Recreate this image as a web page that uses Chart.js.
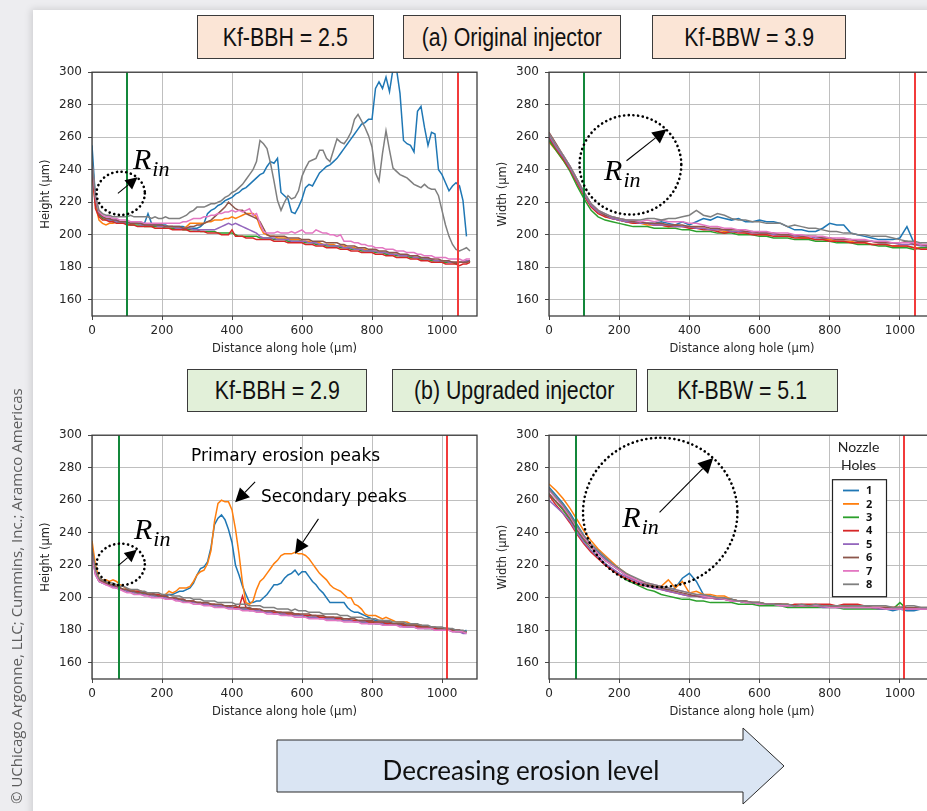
<!DOCTYPE html>
<html>
<head>
<meta charset="utf-8">
<title>Nozzle hole height and width profiles</title>
<script src="https://cdn.jsdelivr.net/npm/chart.js@4.4.1/dist/chart.umd.min.js"></script>
<style>
  html, body { margin:0; padding:0; width:927px; height:811px; overflow:hidden; background:#ededf0; }
  body { position:relative; }
  #sheet { position:absolute; left:33px; top:10px; width:920px; height:830px; background:#fff; box-shadow:-2px -1px 7px rgba(0,0,0,0.13); }
  canvas.plot { position:absolute; }
  .tag { position:absolute; box-sizing:border-box; border:1px solid #3b3b3b; display:flex; align-items:center; justify-content:center;
         font-family:"Liberation Sans",Arial,sans-serif; font-size:26px; color:#111; white-space:nowrap; }
  .tag span { display:inline-block; transform:scaleX(0.82); }
  .orig { background:#fbe5d6; }
  .upg { background:#e2f0d9; }
  #credit { position:absolute; left:7px; top:811px; transform-origin:0 0; transform:rotate(-90deg); white-space:nowrap;
            font-family:"Open Sans","Noto Sans",sans-serif; font-size:15px; line-height:18px; color:#5c5c5c; }
  #trend { position:absolute; left:0; top:0; }
</style>
</head>
<body>
<div id="sheet"></div>

<div class="tag orig" style="left:197px;top:15px;width:177px;height:44px"><span>Kf-BBH = 2.5</span></div>
<div class="tag orig" style="left:403px;top:15px;width:218px;height:44px"><span>(a) Original injector</span></div>
<div class="tag orig" style="left:652px;top:15px;width:194px;height:44px"><span>Kf-BBW = 3.9</span></div>

<div class="tag upg" style="left:187px;top:369px;width:180px;height:43px"><span>Kf-BBH = 2.9</span></div>
<div class="tag upg" style="left:392px;top:369px;width:245px;height:43px"><span>(b) Upgraded injector</span></div>
<div class="tag upg" style="left:647px;top:369px;width:191px;height:43px"><span>Kf-BBW = 5.1</span></div>

<canvas id="heightOrigChart" class="plot" width="450" height="297" style="left:32px;top:59px;width:450px;height:297px"></canvas>
<canvas id="widthOrigChart" class="plot" width="451" height="297" style="left:489px;top:59px;width:451px;height:297px"></canvas>
<canvas id="heightUpgChart" class="plot" width="450" height="297" style="left:32px;top:422px;width:450px;height:297px"></canvas>
<canvas id="widthUpgChart" class="plot" width="451" height="297" style="left:489px;top:422px;width:451px;height:297px"></canvas>

<svg id="trend" width="927" height="811" viewBox="0 0 927 811">
  <polygon points="277,740 743,740 743,728 784,766 743,804 743,792 277,792" fill="#dae5f3" stroke="#2b2b2b" stroke-width="1"/>
  <text x="521" y="773" text-anchor="middle" dominant-baseline="middle" font-family="Lato, 'Open Sans', sans-serif" font-size="26" fill="#111">Decreasing erosion level</text>
</svg>

<div id="credit">© UChicago Argonne, LLC; Cummins, Inc.; Aramco Americas</div>

<script>
// ---- distance along the hole (µm) ----
const distFine = [0,10,20,30,40,50,60,70,80,90,100,110,120,130,140,150,160,170,180,190,
  200,210,220,230,240,250,260,270,280,290,300,310,320,330,340,350,360,370,380,390,
  400,410,420,430,440,450,460,470,480,490,500,510,520,530,540,550,560,570,580,590,
  600,610,620,630,640,650,660,670,680,690,700,710,720,730,740,750,760,770,780,790,
  800,810,820,830,840,850,860,870,880,890,900,910,920,930,940,950,960,970,980,990,
  1000,1010,1020,1030,1040,1050,1060,1070,1080];
const distCoarse = [0,20,40,60,80,100,120,140,160,180,200,220,240,260,280,300,320,340,360,380,
  400,420,440,460,480,500,520,540,560,580,600,620,640,660,680,700,720,740,760,780,
  800,820,840,860,880,900,920,940,960,980,1000,1020,1040,1060,1080];

const holeLabels = ['1','2','3','4','5','6','7','8'];
const holeColors = ['#1f77b4','#ff7f0e','#2ca02c','#d62728','#9467bd','#8c564b','#e377c2','#7f7f7f'];

// ---- (a) original injector: height (µm) ----
const heightOrig1 = [255,222,213,211,210,210,209,209,208,208, 208,207,208,207,207,207,213,207,206,206,
  206,206,205,205,205,205,205,204,204,204, 204,205,207,213,215,216,218,219,221,222,
  223,225,226,228,229,231,233,235,237,238, 242,245,244,247,226,224,222,214,213,217,
  222,229,231,230,234,238,240,242,243,245, 247,250,253,256,259,262,265,268,269,271,
  271,290,294,290,297,288,302,302,287,258, 256,255,251,276,279,266,255,263,262,240,
  237,232,227,230,232,230,221,199,null];
const heightOrig2 = [240,218,209,207,206,207,207,208,208,208, 207,207,207,207,206,206,206,206,205,205,
  205,205,205,205,204,204,204,205,207,207, 207,207,207,208,208,209,209,209,210,210,
  211,210,211,212,213,213,213,211,205,201, 200,199,199,198,198,198,197,197,197,197,
  196,196,196,195,195,195,194,194,194,194, 193,193,193,192,192,192,191,191,191,190,
  190,190,189,189,189,188,188,188,187,187, 187,186,186,186,185,185,185,184,184,184,
  184,183,183,183,183,183,183,184,184];
const heightOrig3 = [243,221,212,210,209,209,208,208,207,207, 207,206,206,206,206,205,205,205,205,205,
  205,204,204,204,204,204,203,203,203,203, 203,202,202,202,202,202,201,201,201,201,
  201,200,199,199,199,199,199,199,198,198, 198,198,197,197,197,197,196,196,196,196,
  196,195,195,195,194,194,194,193,193,193, 193,192,192,192,191,191,191,190,190,190,
  190,189,189,189,188,188,188,187,187,187, 187,186,186,186,185,185,185,184,184,184,
  183,183,183,183,182,183,183,183,184];
const heightOrig4 = [240,216,211,209,209,208,208,207,207,207, 206,206,206,205,205,205,205,205,204,204,
  204,204,204,203,203,203,203,203,202,202, 202,202,202,201,201,201,201,200,200,200,
  203,199,199,199,198,198,198,197,197,197, 197,197,196,196,196,196,195,195,195,195,
  195,194,194,194,193,193,193,192,192,192, 192,191,191,191,190,190,190,189,189,189,
  189,188,188,188,187,187,187,186,186,186, 186,185,185,185,184,184,184,183,183,183,
  183,182,182,182,182,181,182,182,183];
const heightOrig5 = [243,222,213,211,210,209,209,208,208,208, 207,207,207,207,206,206,206,206,206,205,
  205,205,205,205,204,204,204,204,204,203, 203,203,203,203,203,203,204,205,206,207,
  206,207,206,205,204,203,202,201,199,198, 198,198,198,197,197,197,197,196,196,196,
  196,196,195,195,195,194,194,194,193,193, 193,193,192,192,192,191,191,191,190,190,
  190,190,189,189,189,188,188,188,187,187, 187,187,186,186,186,185,185,185,184,184,
  184,184,183,183,183,183,183,184,184];
const heightOrig6 = [242,222,213,211,210,210,209,209,208,208, 208,207,207,207,207,206,206,206,206,206,
  206,205,205,205,205,205,204,204,205,205, 206,206,207,208,209,211,213,215,217,220,
  218,216,215,215,213,212,211,210,208,204, 200,199,199,199,199,199,198,198,198,198,
  197,197,197,196,196,196,196,195,195,195, 195,194,194,193,193,193,192,192,192,191,
  191,191,190,190,190,189,189,189,188,188, 188,187,187,187,186,186,186,185,185,185,
  184,184,184,183,183,183,183,183,184];
const heightOrig7 = [244,223,214,212,211,211,210,210,209,209, 209,208,208,208,208,207,207,207,207,207,
  207,207,207,207,207,207,208,208,209,210, 210,210,211,211,212,212,213,213,214,214,
  215,214,215,214,215,216,212,213,207,202, 201,201,201,202,201,201,201,202,201,202,
  203,201,201,201,203,202,201,201,200,200, 199,200,196,196,196,195,195,194,194,193,
  193,192,192,192,191,191,191,190,190,190, 189,189,189,188,188,187,187,187,186,186,
  186,186,185,185,185,185,184,185,185];
const heightOrig8 = [246,224,215,213,212,212,211,211,211,211, 211,212,211,211,211,211,211,210,211,210,
  210,211,210,210,210,210,211,212,214,215, 217,217,217,218,219,219,220,221,223,224,
  226,227,229,231,234,237,240,245,258,256, 253,244,233,221,215,220,224,222,223,227,
  236,241,245,246,247,252,252,247,245,252, 259,257,256,259,263,271,274,270,266,261,
  254,238,233,250,264,252,241,239,237,236, 235,233,231,230,229,231,229,228,228,224,
  215,206,199,194,191,190,191,192,190];

// ---- (a) original injector: width (µm) ----
const widthOrig1 = [259,253,247,240,232,224,218,214,212,210, 209,208,208,207,207,207,208,207,206,208,
  206,208,210,209,211,210,209,210,208,208, 209,208,208,207,205,203,203,202,202,204,
  207,206,206,201,200,199,198,197,197,197, 198,205,195,194,193];
const widthOrig2 = [257,252,246,240,232,224,218,214,211,210, 209,208,207,207,206,206,206,205,206,205,
  205,204,204,203,203,202,202,202,201,201, 200,200,200,199,199,199,198,198,197,197,
  197,196,196,196,195,195,194,194,194,193, 193,193,192,192,192];
const widthOrig3 = [258,252,246,239,230,222,215,211,209,208, 207,206,205,205,205,204,204,204,204,203,
  203,202,202,202,201,201,201,200,200,200, 199,199,198,198,198,197,197,197,196,196,
  196,195,195,195,194,194,194,193,193,192, 192,192,191,192,192];
const widthOrig4 = [260,253,247,240,232,224,217,213,211,210, 209,208,207,207,207,206,206,205,205,205,
  204,204,203,203,202,201,202,201,201,200, 200,200,199,199,199,198,198,198,197,197,
  196,196,196,195,195,195,194,194,194,193, 193,193,192,191,191];
const widthOrig5 = [261,254,248,241,233,225,218,214,212,210, 209,208,208,207,207,206,206,206,205,205,
  205,204,204,203,203,203,202,202,202,201, 201,201,200,200,200,199,199,199,198,198,
  198,197,197,197,196,196,196,195,195,195, 194,194,194,193,193];
const widthOrig6 = [263,256,249,242,234,226,219,215,212,211, 210,209,208,208,207,207,207,206,206,206,
  205,205,205,204,204,203,203,203,202,202, 201,201,201,200,200,200,199,199,199,198,
  198,197,197,197,196,196,196,195,195,195, 195,196,194,194,193];
const widthOrig7 = [262,255,249,242,234,226,219,215,213,211, 210,209,209,208,209,208,209,208,208,208,
  207,207,206,205,205,204,204,203,203,202, 202,202,201,201,201,200,200,199,199,199,
  198,198,198,197,197,197,196,196,196,195, 195,195,195,194,194];
const widthOrig8 = [262,255,249,242,234,226,219,215,213,211, 210,209,209,209,210,210,209,210,210,211,
  212,215,212,211,213,212,210,209,209,208, 208,207,207,207,205,206,205,204,204,203,
  202,202,201,201,200,200,199,199,199,198, 197,196,196,195,195];

// ---- (b) upgraded injector: height (µm) ----
const heightUpg1 = [231,216,211,210,209,208,208,207,206,205, 205,204,204,203,203,203,202,202,202,201,
  201,201,202,202,203,204,204,205,206,209, 214,218,219,222,231,245,249,251,248,242,
  234,220,214,207,202,197,197,198,198,200, 202,205,208,208,209,212,214,215,217,214,
  216,216,213,210,208,205,203,200,197,197, 197,197,197,194,192,191,191,190,189,188,
  187,186,186,186,185,185,184,184,184,184, 183,183,183,183,182,182,182,182,181,181,
  181,181,180,180,180,180,179,180];
const heightUpg2 = [235,220,212,211,211,210,211,210,208,207, 205,205,204,204,204,203,203,202,202,202,
  201,202,204,203,204,206,206,206,207,210, 214,216,217,221,229,247,258,260,259,259,
  254,242,227,209,197,196,198,205,210,212, 215,218,221,223,226,227,227,227,228,227,
  227,226,224,221,218,215,213,211,208,206, 205,204,202,200,200,196,195,193,190,189,
  189,189,188,187,188,187,186,185,185,185, 185,184,184,183,183,182,182,182,181,181,
  181,181,180,180,180,179,179,179];
const heightUpg3 = [227,215,210,209,209,208,207,206,206,205, 204,204,203,203,203,202,202,202,201,201,
  201,200,200,199,199,199,198,198,198,197, 197,197,196,196,196,195,195,195,195,194,
  194,194,194,193,193,193,193,192,192,192, 191,191,191,191,190,190,190,190,189,189,
  189,189,188,188,188,188,188,187,187,187, 187,187,186,186,186,186,185,185,185,185,
  185,184,184,184,184,183,183,183,183,183, 182,182,182,182,182,181,181,181,181,180,
  180,180,180,180,179,179,179,179];
const heightUpg4 = [228,215,211,210,209,208,207,207,206,205, 205,204,204,204,204,203,203,203,202,202,
  201,201,200,200,199,199,199,198,198,198, 197,197,196,196,196,196,195,195,195,195,
  194,194,194,201,194,193,193,193,192,192, 192,192,191,191,191,190,190,190,190,190,
  189,189,189,189,189,188,188,188,188,188, 187,187,187,187,186,186,186,186,186,185,
  185,185,185,185,184,184,184,184,184,183, 183,183,183,182,182,182,182,181,181,181,
  181,181,180,180,180,180,179,179];
const heightUpg5 = [226,214,210,209,208,208,207,206,205,205, 204,204,203,203,202,202,202,201,201,201,
  200,200,200,199,199,198,198,198,197,197, 197,196,196,196,195,195,195,195,194,194,
  194,193,193,193,193,192,192,192,192,191, 191,191,190,190,190,190,189,189,189,189,
  189,188,188,188,188,187,187,187,187,187, 186,186,186,186,186,185,185,185,185,184,
  184,184,184,184,183,183,183,183,183,182, 182,182,182,181,181,181,181,181,180,180,
  180,180,180,179,179,179,178,178];
const heightUpg6 = [229,216,211,210,209,208,208,207,206,205, 205,204,204,203,203,203,202,202,202,201,
  201,201,200,200,200,199,199,198,198,198, 197,197,197,197,196,196,196,196,195,195,
  195,195,194,194,194,194,193,193,193,192, 192,192,192,191,191,191,191,191,190,190,
  190,190,190,189,189,189,189,188,188,188, 188,188,187,187,187,187,186,186,186,186,
  186,185,185,185,185,185,184,184,184,184, 183,183,183,183,183,182,182,182,182,181,
  181,181,181,180,180,180,179,179];
const heightUpg7 = [226,214,210,209,208,207,206,206,205,204, 203,203,202,202,202,201,201,200,200,200,
  200,199,199,199,198,198,197,197,197,196, 196,196,195,195,195,194,194,194,194,193,
  193,193,193,192,192,192,192,191,191,191, 190,190,190,190,189,189,189,189,188,188,
  188,188,187,187,187,187,187,186,186,186, 186,186,185,185,185,185,185,184,184,184,
  184,184,184,183,183,183,183,183,182,182, 182,182,182,181,181,181,181,181,180,180,
  180,180,180,179,179,179,179,178];
const heightUpg8 = [230,217,212,211,210,209,209,208,207,207, 206,205,205,205,204,204,203,203,203,203,
  202,202,202,201,201,201,200,200,200,199, 199,199,198,198,198,198,197,197,197,197,
  197,196,196,196,196,195,195,195,195,194, 194,194,194,193,193,193,193,192,193,192,
  192,192,191,191,191,191,190,190,190,190, 190,189,189,189,188,188,188,188,187,187,
  187,187,186,186,186,186,185,185,185,185, 184,184,184,184,183,183,183,182,182,182,
  182,181,181,181,180,180,180,179];

// ---- (b) upgraded injector: width (µm) ----
const widthUpg1 = [268,263,258,252,245,238,232,228,224,220, 217,214,212,210,208,207,206,205,206,212,
  215,210,202,201,200,199,199,198,197,197, 197,196,196,196,195,195,195,195,195,195,
  195,194,194,194,194,194,194,193,193,192, 193,192,192,193,193];
const widthUpg2 = [270,266,261,255,248,241,235,230,226,222, 218,215,212,210,209,207,207,211,206,210,
  203,204,202,202,201,201,199,198,198,197, 197,196,196,196,196,195,195,195,195,195,
  195,195,195,194,194,194,194,194,194,194, 194,193,193,193,193];
const widthUpg3 = [264,259,254,248,241,235,229,225,221,217, 214,211,209,207,205,204,202,201,200,199,
  199,198,198,197,197,197,197,196,196,196, 195,195,195,195,194,194,194,194,194,194,
  194,194,193,193,193,193,193,193,193,193, 197,193,193,193,193];
const widthUpg4 = [263,257,252,246,239,233,228,224,220,217, 214,212,210,208,207,206,205,204,203,202,
  201,201,200,200,199,199,198,198,197,197, 196,196,196,196,195,196,196,196,196,196,
  196,195,196,196,196,195,194,194,194,194, 194,193,193,193,193];
const widthUpg5 = [260,256,252,247,240,234,229,225,221,218, 215,213,211,209,207,206,205,204,203,202,
  201,201,200,200,199,199,198,198,197,197, 196,196,196,195,195,195,195,195,195,194,
  194,194,194,194,194,194,194,193,193,193, 193,193,193,193,193];
const widthUpg6 = [264,259,255,249,242,236,231,227,223,220, 217,214,212,210,208,207,206,205,204,203,
  202,201,201,200,200,199,199,198,198,197, 197,196,196,196,196,195,195,195,195,195,
  195,195,195,195,195,195,194,194,194,194, 194,194,194,194,194];
const widthUpg7 = [266,261,256,250,243,237,232,227,223,220, 217,214,212,210,209,208,207,206,205,204,
  203,202,201,200,200,199,198,198,197,197, 196,196,196,195,195,195,195,195,195,195,
  194,194,194,194,194,194,194,194,193,193, 193,193,193,193,193];
const widthUpg8 = [267,262,257,251,244,238,233,229,225,221, 218,215,213,211,209,208,207,206,205,204,
  203,202,202,201,200,200,199,198,198,197, 197,196,196,196,196,195,196,195,196,195,
  195,195,195,195,195,195,195,195,195,194, 194,195,195,194,194];

// ---- axis ticks ----
const distanceTicks = { min: 0, max: 1100, step: 200 };
const sizeTicks = { min: 150, max: 300, step: 20 };

// ---- annotations (positions in data units) ----
const heightOrigNotes = {
  inlet: 100, outlet: 1045,
  ring: { x: 82, y: 225.5, rx: 69, ry: 13.3 },
  pointer: { from: [74, 225.4], to: [130, 235.4], head: 12 },
  radius: { x: 117, y: 240.6 }
};
const widthOrigNotes = {
  inlet: 100, outlet: 1042,
  ring: { x: 232, y: 243, rx: 145, ry: 30.6 },
  pointer: { from: [221, 245.5], to: [335, 264.9], head: 14 },
  radius: { x: 157, y: 233.7 }
};
const heightUpgNotes = {
  inlet: 78, outlet: 1015,
  ring: { x: 82, y: 220.5, rx: 69, ry: 12.8 },
  pointer: { from: [75, 219.8], to: [128, 229.5], head: 12 },
  radius: { x: 120, y: 236.2 },
  captions: [
    { text: 'Primary erosion peaks', x: 553, y: 287.1 },
    { text: 'Secondary peaks', x: 691, y: 261.4 }
  ],
  callouts: [
    { from: [466, 271.3], to: [409, 258.7], head: 14 },
    { from: [647, 248.5], to: [580, 227], head: 14 }
  ]
};
const widthUpgNotes = {
  inlet: 78, outlet: 1013,
  ring: { x: 317, y: 252.5, rx: 220, ry: 45.9 },
  pointer: { from: [315, 252.5], to: [468, 286], head: 15 },
  radius: { x: 209, y: 243.3 },
  legend: { title: ['Nozzle', 'Holes'] }
};

Chart.defaults.font.family = '"DejaVu Sans", sans-serif';
Chart.defaults.color = '#262626';

function arrow(ctx, x1, y1, x2, y2, head) {
  const a = Math.atan2(y2 - y1, x2 - x1);
  const bx = x2 - head * Math.cos(a), by = y2 - head * Math.sin(a);
  const half = head * 0.5;
  ctx.beginPath(); ctx.moveTo(x1, y1); ctx.lineTo(bx, by); ctx.stroke();
  ctx.beginPath();
  ctx.moveTo(x2, y2);
  ctx.lineTo(bx + half * Math.sin(a), by - half * Math.cos(a));
  ctx.lineTo(bx - half * Math.sin(a), by + half * Math.cos(a));
  ctx.closePath(); ctx.fill();
}

const notesPlugin = {
  id: 'notes',
  afterDatasetsDraw(chart, args, o) {
    const { ctx, chartArea: a } = chart;
    const X = v => chart.scales.x.getPixelForValue(v);
    const Y = v => chart.scales.y.getPixelForValue(v);
    ctx.save();

    // inlet / outlet markers
    ctx.lineWidth = 2;
    ctx.strokeStyle = '#13873a';
    ctx.beginPath(); ctx.moveTo(Math.round(X(o.inlet)), a.top); ctx.lineTo(Math.round(X(o.inlet)), a.bottom); ctx.stroke();
    ctx.strokeStyle = '#f23b3b';
    ctx.beginPath(); ctx.moveTo(Math.round(X(o.outlet)), a.top); ctx.lineTo(Math.round(X(o.outlet)), a.bottom); ctx.stroke();

    // axes frame
    ctx.strokeStyle = '#3c3c3c';
    ctx.lineWidth = 1.3;
    ctx.strokeRect(a.left, a.top, a.right - a.left, a.bottom - a.top);

    // inlet radius ring
    const r = o.ring;
    ctx.strokeStyle = '#000';
    ctx.lineWidth = 2.6;
    ctx.lineCap = 'round';
    ctx.setLineDash([0.1, 4.6]);
    ctx.beginPath();
    ctx.ellipse(X(r.x), Y(r.y), Math.abs(X(r.x + r.rx) - X(r.x)), Math.abs(Y(r.y + r.ry) - Y(r.y)), 0, 0, Math.PI * 2);
    ctx.stroke();
    ctx.setLineDash([]);
    ctx.lineCap = 'butt';

    // radius pointer
    ctx.fillStyle = '#000';
    ctx.lineWidth = 1.1;
    const p = o.pointer;
    arrow(ctx, X(p.from[0]), Y(p.from[1]), X(p.to[0]), Y(p.to[1]), p.head);

    // R_in label
    const rx = X(o.radius.x), ry = Y(o.radius.y);
    ctx.textAlign = 'left';
    ctx.textBaseline = 'alphabetic';
    ctx.font = 'italic 30px "Liberation Serif", serif';
    ctx.fillText('R', rx, ry);
    const rw = ctx.measureText('R').width;
    ctx.font = 'italic 22px "Liberation Serif", serif';
    ctx.fillText('in', rx + rw + 1, ry + 7);

    // captions with call-out arrows
    if (o.captions) {
      ctx.font = '17px "DejaVu Sans", sans-serif';
      ctx.textAlign = 'center';
      ctx.textBaseline = 'middle';
      o.captions.forEach(c => ctx.fillText(c.text, X(c.x), Y(c.y)));
      o.callouts.forEach(c => arrow(ctx, X(c.from[0]), Y(c.from[1]), X(c.to[0]), Y(c.to[1]), c.head));
    }

    // hole legend
    if (o.legend) {
      const cx = a.right - 76.5;
      ctx.font = '14px Lato, "Open Sans", sans-serif';
      ctx.textAlign = 'center';
      ctx.textBaseline = 'middle';
      ctx.fillStyle = '#222';
      ctx.fillText(o.legend.title[0], cx, a.top + 12.5);
      ctx.fillText(o.legend.title[1], cx, a.top + 30.5);
      const bx = a.right - 103, by = a.top + 44, bw = 54, bh = 117;
      ctx.fillStyle = '#fff';
      ctx.fillRect(bx, by, bw, bh);
      ctx.strokeStyle = '#222';
      ctx.lineWidth = 1.2;
      ctx.strokeRect(bx + 0.5, by + 0.5, bw, bh);
      ctx.font = 'bold 11px "Open Sans", sans-serif';
      ctx.textAlign = 'left';
      chart.data.datasets.forEach((ds, i) => {
        const yy = a.top + 55.3 + i * 13.4;
        ctx.strokeStyle = ds.borderColor;
        ctx.lineWidth = 1.8;
        ctx.beginPath(); ctx.moveTo(a.right - 92, yy); ctx.lineTo(a.right - 76, yy); ctx.stroke();
        ctx.fillStyle = '#111';
        ctx.fillText(ds.label, a.right - 69, yy + 0.5);
      });
    }
    ctx.restore();
  }
};

function holeSets(dist, series) {
  return series.map((vals, i) => ({
    label: holeLabels[i],
    data: vals.map((v, k) => ({ x: dist[k], y: v })),
    borderColor: holeColors[i],
    backgroundColor: holeColors[i],
    borderWidth: 1.5,
    pointRadius: 0,
    tension: 0,
    fill: false,
    order: 8 - i
  }));
}

const plainNumber = v => String(v);

function drawPanel(id, dist, series, yTitle, notes) {
  new Chart(document.getElementById(id), {
    type: 'line',
    data: { datasets: holeSets(dist, series) },
    options: {
      responsive: false,
      animation: false,
      events: [],
      layout: { padding: { top: 4, right: 5, left: 0, bottom: 0 } },
      plugins: { legend: { display: false }, tooltip: { enabled: false }, notes: notes },
      scales: {
        x: {
          type: 'linear',
          min: distanceTicks.min, max: distanceTicks.max,
          afterFit: s => { s.height = 40; },
          border: { display: false },
          grid: { color: '#b8b8b8', lineWidth: 0.9, drawTicks: true, tickLength: 4, tickColor: '#333' },
          ticks: { stepSize: distanceTicks.step, includeBounds: false, maxRotation: 0, padding: 4, font: { size: 12 }, color: '#262626', callback: plainNumber },
          title: { display: true, text: 'Distance along hole (µm)', font: { size: 11.5 }, color: '#262626', padding: { top: 0, bottom: 0 } }
        },
        y: {
          type: 'linear',
          min: sizeTicks.min, max: sizeTicks.max,
          afterFit: s => { s.width = 60; },
          border: { display: false },
          grid: { color: '#b8b8b8', lineWidth: 0.9, drawTicks: true, tickLength: 4, tickColor: '#333' },
          ticks: { stepSize: sizeTicks.step, includeBounds: false, padding: 6, font: { size: 12 }, color: '#262626', callback: plainNumber },
          title: { display: true, text: yTitle, font: { size: 11.5 }, color: '#262626', padding: { top: 7, bottom: 0 } }
        }
      }
    },
    plugins: [notesPlugin]
  });
}

drawPanel('heightOrigChart', distFine,
  [heightOrig1, heightOrig2, heightOrig3, heightOrig4, heightOrig5, heightOrig6, heightOrig7, heightOrig8],
  'Height (µm)', heightOrigNotes);
drawPanel('widthOrigChart', distCoarse,
  [widthOrig1, widthOrig2, widthOrig3, widthOrig4, widthOrig5, widthOrig6, widthOrig7, widthOrig8],
  'Width (µm)', widthOrigNotes);
drawPanel('heightUpgChart', distFine,
  [heightUpg1, heightUpg2, heightUpg3, heightUpg4, heightUpg5, heightUpg6, heightUpg7, heightUpg8],
  'Height (µm)', heightUpgNotes);
drawPanel('widthUpgChart', distCoarse,
  [widthUpg1, widthUpg2, widthUpg3, widthUpg4, widthUpg5, widthUpg6, widthUpg7, widthUpg8],
  'Width (µm)', widthUpgNotes);

// credit line runs up the left margin, ending beside the lower panels
const credit = document.getElementById('credit');
credit.style.top = (388 + credit.offsetWidth) + 'px';
</script>
</body>
</html>
